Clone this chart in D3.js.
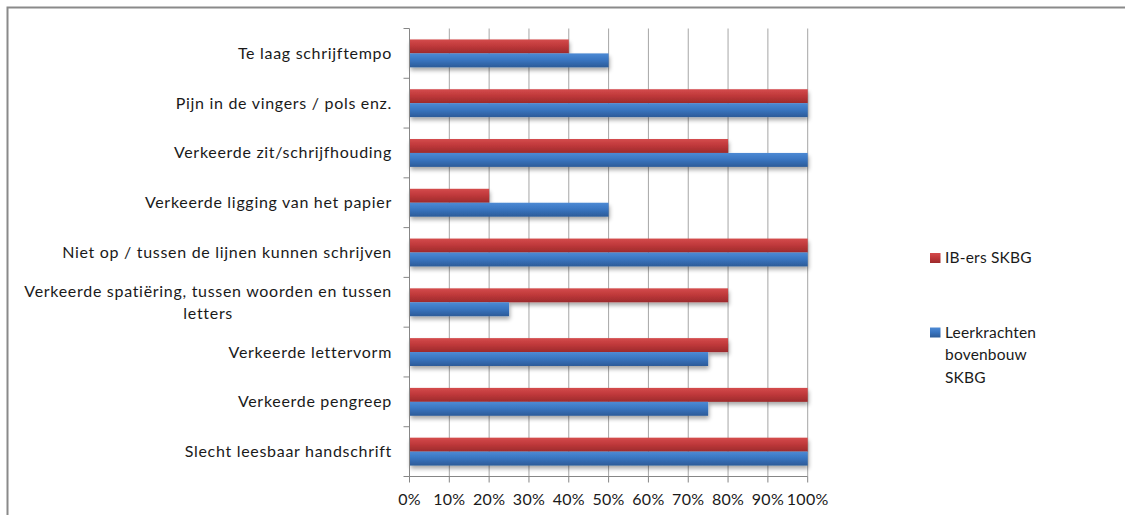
<!DOCTYPE html>
<html><head><meta charset="utf-8">
<script src="https://cdn.jsdelivr.net/npm/d3@7"></script>
<style>
html,body{margin:0;padding:0;background:#fff;}
svg{display:block;}
text{font-family:Lato,"Open Sans",sans-serif;fill:#1a1a1a;}
</style></head>
<body>
<svg id="chart" width="1125" height="515"></svg>
<script>
// Data (top to bottom as displayed)
const categories = [
  "Te laag schrijftempo",
  "Pijn in de vingers / pols enz.",
  "Verkeerde zit/schrijfhouding",
  "Verkeerde ligging van het papier",
  "Niet op / tussen de lijnen kunnen schrijven",
  "Verkeerde spatiëring, tussen woorden en tussen letters",
  "Verkeerde lettervorm",
  "Verkeerde pengreep",
  "Slecht leesbaar handschrift"
];
const ibersValues      = [40, 100, 80, 20, 100, 80, 80, 100, 100];
const leerkrachtValues = [50, 100, 100, 50, 100, 25, 75, 75, 100];
const seriesNames = ["IB-ers SKBG", "Leerkrachten bovenbouw SKBG"];
const xTicks = [0,10,20,30,40,50,60,70,80,90,100];
const tickLabels = xTicks.map(d => d + "%");
const labelLines = {
  "Verkeerde spatiëring, tussen woorden en tussen letters": ["Verkeerde spatiëring, tussen woorden en tussen", "letters"]
};
const legendLines = [["IB-ers SKBG"], ["Leerkrachten", "bovenbouw", "SKBG"]];

(function(){
const svg = d3.select("#chart");
const FS = 16, LS = "0.7px";

// frame
svg.append("path").attr("d","M7.5,515 L7.5,7.5 L1125,7.5")
  .attr("fill","none").attr("stroke","#8a8a8a").attr("stroke-width",2);

const pLeft = 409.5, pRight = 807.7, pTop = 28.5, pBottom = 476.5;
const x = d3.scaleLinear().domain([0,100]).range([pLeft,pRight]);
const y0 = d3.scaleBand().domain(categories).range([pTop,pBottom]).paddingInner(0.44).paddingOuter(0.22);
const keys = ["ib","lk"];
const y1 = d3.scaleBand().domain(keys).range([0,y0.bandwidth()]);
const colors = {ib:["#d44b4c","#c0393b","#9c2a2c"], lk:["#4d8ad4","#3a76c2","#2c5b98"]};

const defs = svg.append("defs");
keys.forEach(k=>{
  const g = defs.append("linearGradient").attr("id","g_"+k).attr("x1",0).attr("x2",0).attr("y1",0).attr("y2",1);
  g.append("stop").attr("offset","0%").attr("stop-color",colors[k][0]);
  g.append("stop").attr("offset","45%").attr("stop-color",colors[k][1]);
  g.append("stop").attr("offset","100%").attr("stop-color",colors[k][2]);
});
const f = defs.append("filter").attr("id","sh").attr("x","-5%").attr("y","-20%").attr("width","115%").attr("height","160%");
f.append("feGaussianBlur").attr("in","SourceAlpha").attr("stdDeviation",2).attr("result","b");
f.append("feOffset").attr("in","b").attr("dx",1).attr("dy",2.5).attr("result","o");
f.append("feComponentTransfer").attr("in","o").attr("result","o2").append("feFuncA").attr("type","linear").attr("slope",0.35);
const fm = f.append("feMerge"); fm.append("feMergeNode").attr("in","o2"); fm.append("feMergeNode").attr("in","SourceGraphic");

// gridlines
svg.append("g").selectAll("line").data(xTicks.slice(1)).join("line")
  .attr("x1",d=>x(d)).attr("x2",d=>x(d)).attr("y1",pTop).attr("y2",pBottom)
  .attr("stroke","#a6a6a6").attr("stroke-width",1);

// bars
const rows = categories.map((c,i)=>({cat:c, ib:ibersValues[i], lk:leerkrachtValues[i]}));
const gb = svg.append("g").attr("filter","url(#sh)");
rows.forEach(r=>{
  keys.forEach(k=>{
    gb.append("rect").attr("x",x(0)).attr("y",y0(r.cat)+y1(k))
      .attr("width",x(r[k])-x(0)).attr("height",y1.bandwidth())
      .attr("fill","url(#g_"+k+")");
  });
});

// y axis
const ya = svg.append("g");
ya.append("line").attr("x1",pLeft).attr("x2",pLeft).attr("y1",pTop).attr("y2",pBottom).attr("stroke","#868686");
const bounds = categories.map(c=>y0(c)-y0.step()*0.22).concat([pBottom]);
ya.selectAll("line.t").data(bounds).join("line").attr("class","t")
  .attr("x1",pLeft-6).attr("x2",pLeft).attr("y1",d=>d).attr("y2",d=>d).attr("stroke","#868686");

// x axis
const xa = svg.append("g");
xa.append("line").attr("x1",pLeft).attr("x2",pRight).attr("y1",pBottom).attr("y2",pBottom).attr("stroke","#868686");
xa.selectAll("line.t").data(xTicks).join("line").attr("class","t")
  .attr("x1",d=>x(d)).attr("x2",d=>x(d)).attr("y1",pBottom).attr("y2",pBottom+6).attr("stroke","#868686");
xa.selectAll("text").data(xTicks).join("text")
  .attr("x",d=>x(d)).attr("y",505).attr("text-anchor","middle").attr("font-size",FS).attr("letter-spacing","0.3px")
  .text((d,i)=>tickLabels[i]);

// category labels
const labelRight = 392;
categories.forEach(c=>{
  const lines = labelLines[c] || [c];
  const cy = y0(c) + y0.bandwidth()/2;
  if (lines.length === 1) {
    svg.append("text").attr("x",labelRight).attr("y",cy+5.5).attr("text-anchor","end")
      .attr("font-size",FS).attr("letter-spacing",LS).text(c);
  } else {
    const t = svg.append("text").attr("font-size",FS).attr("letter-spacing",LS).attr("text-anchor","middle");
    const lh = 22;
    const tmp = svg.append("text").attr("font-size",FS).attr("letter-spacing",LS).text(lines[0]);
    const w = tmp.node().getComputedTextLength(); tmp.remove();
    const cx = labelRight - w/2;
    lines.forEach((l,i)=>{
      t.append("tspan").attr("x",cx).attr("y",cy+5.5 - (lines.length-1)*lh/2 + i*lh).text(l);
    });
  }
});

// legend
const lg = svg.append("g");
const legY = [253, 327.5];
keys.forEach((k,i)=>{
  lg.append("rect").attr("x",930).attr("y",legY[i]).attr("width",10.5).attr("height",10)
    .attr("fill","url(#g_"+k+")");
  const t = lg.append("text").attr("font-size",15.5).attr("letter-spacing","0.2px");
  legendLines[i].forEach((l,j)=>{
    t.append("tspan").attr("x",945).attr("y",legY[i]+10+j*22.5).text(l);
  });
});
})();
</script>
</body></html>
